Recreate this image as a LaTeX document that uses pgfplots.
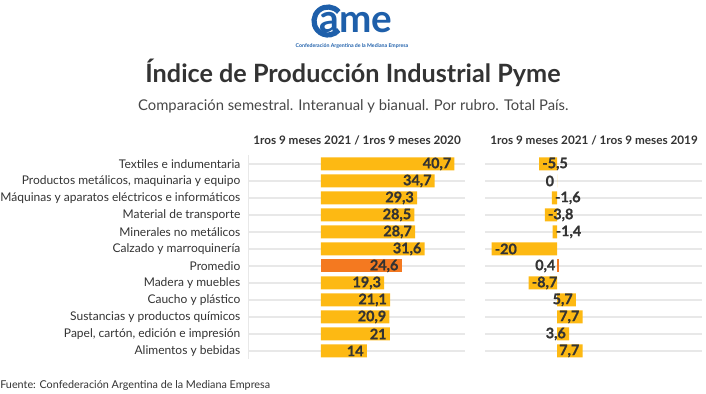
\documentclass[border=0pt]{standalone}
\usepackage{pgfplots}
\pgfplotsset{compat=1.18}
\usepackage{pgfplotstable}
\usepackage{fontspec}
\setmainfont{Lato}
\newfontfamily\valfont{Lato}[BoldFeatures={FakeBold=0.8}]
\definecolor{gold}{HTML}{FDB913}
\definecolor{orng}{HTML}{F47920}
\definecolor{txt}{HTML}{333333}
\definecolor{came}{HTML}{1E5FAA}
\definecolor{gridc}{HTML}{E8E8E8}

\pgfplotstableread[col sep=comma]{
y,a,la
0,40.7,{40,7}
1,34.7,{34,7}
2,29.3,{29,3}
3,28.5,{28,5}
4,28.7,{28,7}
5,31.6,{31,6}
7,19.3,{19,3}
8,21.1,{21,1}
9,20.9,{20,9}
10,21,{21}
11,14,{14}
}\tabA
\pgfplotstableread[col sep=comma]{
y,a,la
6,24.6,{24,6}
}\tabAprom
\pgfplotstableread[col sep=comma]{
y,b,lb
0,-5.5,{-5,5}
2,-1.6,{-1,6}
3,-3.8,{-3,8}
4,-1.4,{-1,4}
5,-20,{-20}
7,-8.7,{-8,7}
}\tabBneg
\pgfplotstableread[col sep=comma]{
y,b,lb
1,0,{0}
8,5.7,{5,7}
9,7.7,{7,7}
10,3.6,{3,6}
11,7.7,{7,7}
}\tabBpos
\pgfplotstableread[col sep=comma]{
y,b,lb
6,0.4,{0,4}
}\tabBprom

\pgfplotsset{
  panel/.style={
    scale only axis, width=162.5pt, height=153pt,
    xmin=-22, xmax=44, ymin=-0.5, ymax=11.5, y dir=reverse,
    xbar, bar width=9.75pt, bar shift=0pt,
    xtick=\empty, ytick={0,...,11}, major tick length=0pt,
    ymajorgrids, grid style={gridc, line width=1pt},
    nodes near coords, point meta=explicit symbolic,
    every node near coord/.append style={font=\valfont\bfseries\fontsize{10.8}{12}\selectfont, text=txt, anchor=east, inner sep=2.2pt},
  },
}

\begin{document}
\begin{tikzpicture}
\path[use as bounding box] (0,0) rectangle (529.5pt,-294.75pt);
% logo
\draw[came, line width=3.9pt] ([shift={(40:10.5pt)}]246pt,-15.75pt) arc (40:320:10.5pt);
\node[came, font=\bfseries\fontsize{29}{29}\selectfont, anchor=base west, inner sep=0pt] at (239.5pt,-24pt) {ame};
\node[came, font=\bfseries\fontsize{3.9}{5}\selectfont, inner sep=0pt] at (264pt,-34.5pt) {Confederación Argentina de la Mediana Empresa};
% titles
\node[txt, font=\bfseries\fontsize{18.9}{21}\selectfont, inner sep=0pt] at (264.75pt,-55pt) {Índice de Producción Industrial Pyme};
\node[txt!90, font=\fontsize{11.1}{13}\selectfont, inner sep=0pt] at (265pt,-79.5pt) {Comparación semestral. Interanual y bianual. Por rubro. Total País.};
\node[txt, font=\bfseries\fontsize{8.8}{10}\selectfont, inner sep=0pt] at (267.75pt,-105pt) {1ros 9 meses 2021 / 1ros 9 meses 2020};
\node[txt, font=\bfseries\fontsize{8.8}{10}\selectfont, inner sep=0pt] at (445.5pt,-105pt) {1ros 9 meses 2021 / 1ros 9 meses 2019};
\node[txt, font=\fontsize{8.1}{9}\selectfont, anchor=west, inner sep=0pt] at (0pt,-289.5pt) {Fuente: Confederación Argentina de la Mediana Empresa};

\begin{axis}[panel, at={(186.45pt,-116.6pt)}, anchor=north west,
  axis lines*=left, x axis line style={draw=none}, y axis line style={draw=gridc, line width=0.8pt},
  yticklabels={Textiles e indumentaria, {Productos metálicos, maquinaria y equipo}, Máquinas y aparatos eléctricos e informáticos, Material de transporte, Minerales no metálicos, Calzado y marroquinería, Promedio, Madera y muebles, Caucho y plástico, Sustancias y productos químicos, {Papel, cartón, edición e impresión}, Alimentos y bebidas},
  yticklabel style={font=\fontsize{9}{10}\selectfont, text=txt, anchor=east, inner sep=0pt, xshift=-6pt},
]
\addplot[fill=gold, draw=none] table[x=a, y=y, meta=la] {\tabA};
\addplot[fill=orng, draw=none] table[x=a, y=y, meta=la] {\tabAprom};
\end{axis}

\begin{axis}[panel, at={(363.75pt,-116.6pt)}, anchor=north west,
  axis line style={draw=none}, yticklabels={},
]
\addplot[fill=gold, draw=none, every node near coord/.append style={anchor=west}] table[x=b, y=y, meta=lb] {\tabBneg};
\addplot[fill=gold, draw=none] table[x=b, y=y, meta=lb] {\tabBpos};
\addplot[fill=orng, draw=none] table[x=b, y=y, meta=lb] {\tabBprom};
\end{axis}
\end{tikzpicture}
\end{document}
